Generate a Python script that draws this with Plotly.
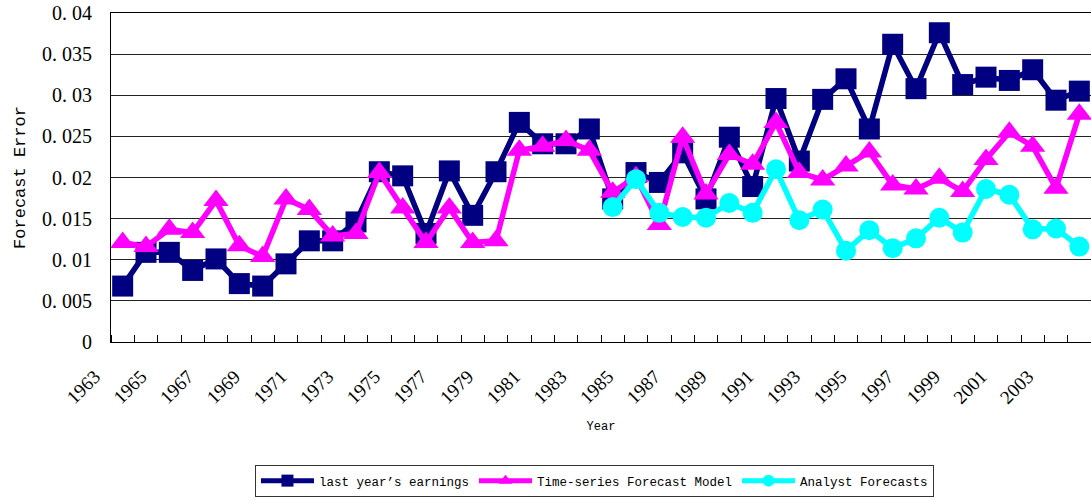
import plotly.graph_objects as go

years = list(range(1963, 2005))

last_year_earnings = [
    0.0068, 0.0109, 0.0109, 0.0087, 0.0101, 0.0071, 0.0068, 0.0095, 0.0123, 0.0123,
    0.0146, 0.0207, 0.0202, 0.0132, 0.0208, 0.0154, 0.0207, 0.0267, 0.0241, 0.0241,
    0.0259, 0.0174, 0.0206, 0.0194, 0.0230, 0.0174, 0.0249, 0.0189, 0.0296, 0.0220,
    0.0295, 0.0320, 0.0259, 0.0362, 0.0308, 0.0376, 0.0313, 0.0322, 0.0318, 0.0331,
    0.0294, 0.0305,
]

time_series_model = [
    0.0121, 0.0116, 0.0137, 0.0133, 0.0172, 0.0117, 0.0104, 0.0174, 0.0161, 0.0129,
    0.0132, 0.0206, 0.0163, 0.0121, 0.0163, 0.0121, 0.0123, 0.0233, 0.0238, 0.0245,
    0.0233, 0.0182, 0.0201, 0.0143, 0.0249, 0.0180, 0.0228, 0.0216, 0.0267, 0.0206,
    0.0197, 0.0214, 0.0231, 0.0191, 0.0186, 0.0199, 0.0183, 0.0222, 0.0255, 0.0238,
    0.0187, 0.0277,
]

analyst_years = list(range(1984, 2005))
analyst_forecasts = [
    0.0164, 0.0198, 0.0157, 0.0152, 0.0151, 0.0169, 0.0157, 0.0210, 0.0148, 0.0161,
    0.0111, 0.0136, 0.0114, 0.0126, 0.0151, 0.0133, 0.0186, 0.0179, 0.0137, 0.0138,
    0.0116,
]

y_tickvals = [0, 0.005, 0.01, 0.015, 0.02, 0.025, 0.03, 0.035, 0.04]
y_ticktext = ["0", "0. 005", "0. 01", "0. 015", "0. 02", "0. 025", "0. 03", "0. 035", "0. 04"]
x_tickvals = list(range(1963, 2004, 2))
x_ticktext = [str(v) for v in x_tickvals]

NAVY = "#000080"
MAGENTA = "#FF00FF"
CYAN = "#00FFFF"

fig = go.Figure()
fig.add_trace(go.Scatter(
    x=years, y=last_year_earnings, name="last year\u2019s earnings",
    mode="lines+markers",
    line=dict(color=NAVY, width=5.5),
    marker=dict(symbol="square", size=21, color=NAVY),
))
fig.add_trace(go.Scatter(
    x=years, y=time_series_model, name="Time-series Forecast Model",
    mode="lines+markers",
    line=dict(color=MAGENTA, width=5.5),
    marker=dict(symbol="triangle-up", size=22, color=MAGENTA),
))
fig.add_trace(go.Scatter(
    x=analyst_years, y=analyst_forecasts, name="Analyst Forecasts",
    mode="lines+markers",
    line=dict(color=CYAN, width=5.5),
    marker=dict(symbol="circle", size=20, color=CYAN),
))

fig.update_layout(
    width=1091, height=500,
    margin=dict(l=111, r=0, t=13, b=158, autoexpand=False),
    paper_bgcolor="white", plot_bgcolor="white",
    font=dict(family="Liberation Serif", color="black"),
    showlegend=True,
    hovermode=False,
    legend=dict(
        orientation="h",
        xref="container", yref="container",
        x=0.2337, xanchor="left",
        y=0.006, yanchor="bottom",
        bordercolor="#333333", borderwidth=1,
        font=dict(family="Liberation Mono", size=12.5, color="black"),
        itemsizing="constant",
        itemwidth=53,
        tracegroupgap=0,
    ),
)

fig.update_xaxes(
    range=[1962.5, 2004.5],
    tickmode="array", tickvals=x_tickvals, ticktext=x_ticktext,
    tickangle=-45,
    ticks="",
    ticklabelshift=-28,
    ticklabelstandoff=15,
    tickfont=dict(family="Liberation Serif", size=19, color="black"),
    showline=True, linecolor="black", linewidth=1, mirror=True,
    showgrid=False, zeroline=False,
    minor=dict(tick0=1962.5, dtick=1, ticks="inside", ticklen=7,
               tickcolor="black", tickwidth=1, showgrid=False),
    title=dict(text="Year", font=dict(family="Liberation Mono", size=12, color="black"),
               standoff=14),
    automargin=False,
    fixedrange=True,
)

fig.update_yaxes(
    range=[0, 0.04],
    tickmode="array", tickvals=y_tickvals, ticktext=y_ticktext,
    tickfont=dict(family="Liberation Serif", size=20, color="black"),
    ticks="", ticklabelstandoff=14,
    showline=True, linecolor="black", linewidth=1,
    showgrid=True, gridcolor="#222222", gridwidth=1,
    zeroline=False,
    title=dict(text="Forecast Error", font=dict(family="Liberation Mono", size=17, color="black"),
               standoff=12),
    automargin=False,
    fixedrange=True,
)

# remove the page's default body margin so the figure fills the window exactly
fig.write_html(
    "out.html",
    config={"displayModeBar": False, "staticPlot": True},
    post_script="document.body.style.margin='0px';",
)
